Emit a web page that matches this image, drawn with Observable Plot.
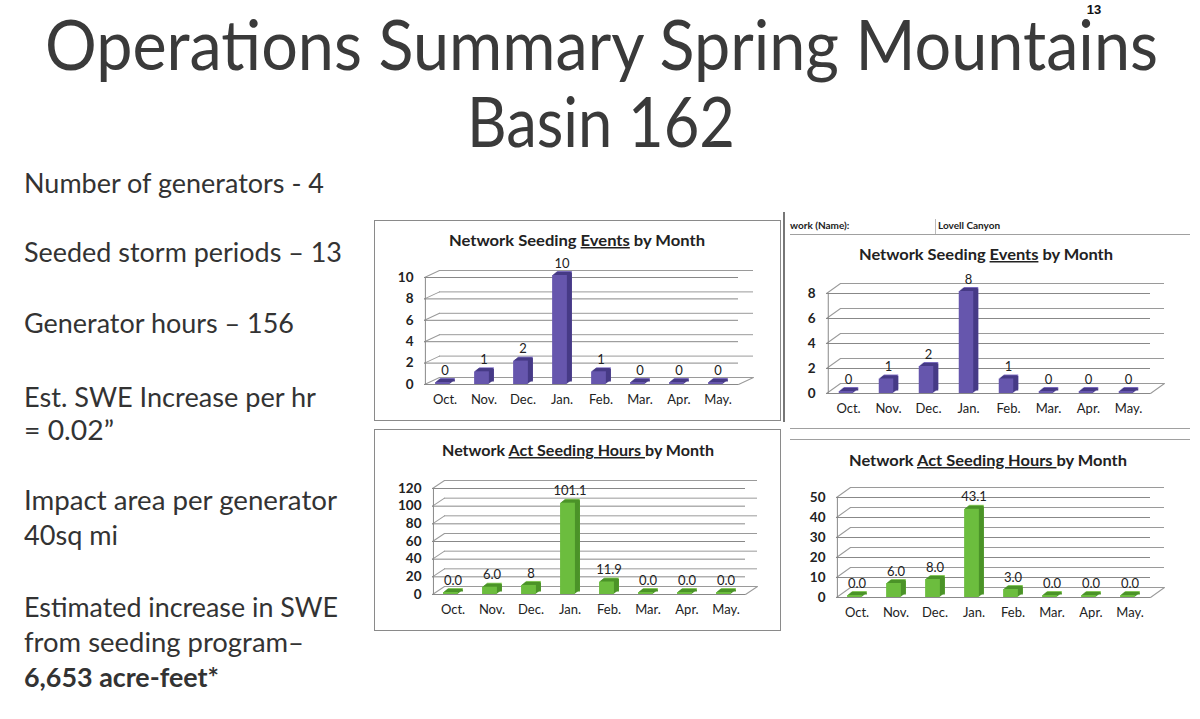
<!DOCTYPE html>
<html>
<head>
<meta charset="utf-8">
<script src="https://cdn.jsdelivr.net/npm/d3@7"></script>
<script src="https://cdn.jsdelivr.net/npm/@observablehq/plot@0.6"></script>
<style>
  html, body { margin: 0; padding: 0; background: #fff; }
  #page { position: relative; width: 1200px; height: 719px; overflow: hidden; background: #fff; font-family: Lato, "Open Sans", sans-serif; }
  #overlay { position: absolute; left: 0; top: 0; pointer-events: none; }
  .box { position: absolute; border: 1px solid #8a8a8a; box-sizing: border-box; }
  .hline { position: absolute; height: 0; border-top: 1px solid #a0a0a0; }
  .vline { position: absolute; width: 0; border-left: 1px solid #808080; }
</style>
</head>
<body>
<div id="page">
  <div class="box" style="left:374px; top:220px; width:407px; height:201px;"></div>
  <div class="box" style="left:374px; top:429px; width:407px; height:202px;"></div>
  <div class="vline" style="left:783px; top:212px; height:210px; border-left:2px solid #777;"></div>
  <div class="hline" style="left:790px; top:234px; width:400px;"></div>
  <div class="vline" style="left:935px; top:219px; height:15px; border-left:1px solid #bbb;"></div>
  <div class="hline" style="left:790px; top:428px; width:400px;"></div>
  <div class="hline" style="left:790px; top:439px; width:400px;"></div>
</div>
<script>
// ---------- data ----------
const months = ["Oct.", "Nov.", "Dec.", "Jan.", "Feb.", "Mar.", "Apr.", "May."];
const basinEvents = [0, 1, 2, 10, 1, 0, 0, 0];
const basinEventLabels = ["0", "1", "2", "10", "1", "0", "0", "0"];
const lovellEvents = [0, 1, 2, 8, 1, 0, 0, 0];
const lovellEventLabels = ["0", "1", "2", "8", "1", "0", "0", "0"];
const basinHours = [0, 6.0, 8, 101.1, 11.9, 0, 0, 0];
const basinHourLabels = ["0.0", "6.0", "8", "101.1", "11.9", "0.0", "0.0", "0.0"];
const lovellHours = [0, 6.0, 8.0, 43.1, 3.0, 0, 0, 0];
const lovellHourLabels = ["0.0", "6.0", "8.0", "43.1", "3.0", "0.0", "0.0", "0.0"];
const basinEventTicks = [0, 2, 4, 6, 8, 10];
const lovellEventTicks = [0, 2, 4, 6, 8];
const basinHourTicks = [0, 20, 40, 60, 80, 100, 120];
const lovellHourTicks = [0, 10, 20, 30, 40, 50];

const pageTitle1 = "Operations Summary Spring Mountains";
const pageTitle2 = "Basin 162";
const pageNumber = "13";
const bullets = [
  ["Number of generators - 4"],
  ["Seeded storm periods \u2013 13"],
  ["Generator hours \u2013 156"],
  ["Est. SWE Increase per hr", "= 0.02\u201D"],
  ["Impact area per generator", "40sq mi"],
  ["Estimated increase in SWE", "from seeding program\u2013", "6,653 acre-feet*"]
];
const networkLabel = "work (Name):";
const networkName = "Lovell Canyon";

const purple = {front: "#6656ad", side: "#463a86", top: "#8577c8"};
const green = {front: "#6cbd3e", side: "#4b9328", top: "#93d466"};

// ---------- chart builder ----------
function lineShape() {
  return { draw(context, l) { context.moveTo(0, 0); context.lineTo(0, -l); } };
}

function drawChart(o) {
  const rows = months.map((m, i) => ({month: m, value: o.values[i], label: o.labels[i]}));
  const plotW = o.width - o.marginLeft - o.marginRight;
  const bw = plotW / months.length;
  const gdx = o.gdx, gdy = o.gdy;
  const len = Math.hypot(gdx, gdy);
  const ang = Math.atan2(gdx, -gdy) * 180 / Math.PI;
  const marks = [];
  marks.push(Plot.ruleY(o.ticks, {y: d => d, dx: gdx, dy: gdy, stroke: "#9a9a9a", strokeWidth: 1}));
  marks.push(Plot.vector(o.ticks, {y: d => d, frameAnchor: "left", length: len, rotate: ang, anchor: "start", shape: lineShape(), stroke: "#9a9a9a", strokeWidth: 1}));
  marks.push(Plot.ruleY([0], {stroke: "#9a9a9a", strokeWidth: 1}));
  marks.push(Plot.vector([0], {y: d => d, frameAnchor: "right", length: len, rotate: ang, anchor: "start", shape: lineShape(), stroke: "#9a9a9a", strokeWidth: 1}));
  marks.push(Plot.ruleX([months[0]], {dx: -bw / 2, y1: 0, y2: o.ticks[o.ticks.length - 1], stroke: "#888"}));
  marks.push(Plot.tickY(o.ticks, {y: d => d, frameAnchor: "left", stroke: "#888"}));
  const inset = (bw - o.barW) / 2;
  for (let k = o.depth; k >= 1; k--) {
    marks.push(Plot.rectY(rows, {
      x: "month", y: "value", fill: k === o.depth ? o.color.top : o.color.side,
      insetLeft: inset, insetRight: inset, insetTop: -2,
      dx: k - 2, dy: -k * 0.8
    }));
  }
  marks.push(Plot.rectY(rows, {
    x: "month", y: "value", fill: o.color.side,
    insetLeft: inset + 1, insetRight: inset, insetTop: -2, dx: o.depth - 2, dy: -o.depth * 0.8 + 1.5
  }));
  marks.push(Plot.rectY(rows, {
    x: "month", y: "value", fill: o.color.front,
    insetLeft: inset, insetRight: inset, insetTop: -2, dx: -2
  }));
  marks.push(Plot.text(rows, {
    x: "month", y: "value", text: "label", dy: -14, dx: 0,
    fontSize: 13, fill: "#222", fontFamily: "Lato"
  }));
  marks.push(Plot.axisX({tickSize: 0, tickPadding: 10, fontSize: 13, label: null, fill: "#222"}));
  marks.push(Plot.axisY({ticks: o.ticks, tickSize: 0, tickPadding: 11, fontSize: 13.5, fontWeight: "bold", label: null, fill: "#222"}));

  const svg = Plot.plot({
    width: o.width, height: o.height,
    marginLeft: o.marginLeft, marginRight: o.marginRight,
    marginTop: o.marginTop, marginBottom: o.marginBottom,
    style: {fontFamily: "Lato, sans-serif", background: "transparent", overflow: "visible"},
    x: {domain: months, padding: 0, label: null},
    y: {domain: [0, o.ticks[o.ticks.length - 1]], label: null},
    marks
  });
  svg.style.position = "absolute";
  svg.style.left = o.left + "px";
  svg.style.top = o.top + "px";
  document.getElementById("page").appendChild(svg);
}

drawChart({left: 374, top: 255, width: 407, height: 159, marginLeft: 50, marginRight: 43, marginTop: 22, marginBottom: 30,
  values: basinEvents, labels: basinEventLabels, ticks: basinEventTicks, color: purple, gdx: 15, gdy: -7, barW: 15, depth: 5});
drawChart({left: 784, top: 268, width: 411, height: 152, marginLeft: 42, marginRight: 45, marginTop: 25, marginBottom: 27,
  values: lovellEvents, labels: lovellEventLabels, ticks: lovellEventTicks, color: purple, gdx: 14, gdy: -10, barW: 15, depth: 5});
drawChart({left: 374, top: 465, width: 407, height: 157, marginLeft: 58, marginRight: 36, marginTop: 23, marginBottom: 28,
  values: basinHours, labels: basinHourLabels, ticks: basinHourTicks, color: green, gdx: 12, gdy: -8, barW: 15, depth: 5});
drawChart({left: 784, top: 472, width: 411, height: 152, marginLeft: 52, marginRight: 45, marginTop: 25, marginBottom: 27,
  values: lovellHours, labels: lovellHourLabels, ticks: lovellHourTicks, color: green, gdx: 14, gdy: -10, barW: 15, depth: 5});

// ---------- page text overlay ----------
const ns = "http://www.w3.org/2000/svg";
const ov = document.createElementNS(ns, "svg");
ov.setAttribute("id", "overlay");
ov.setAttribute("width", 1200);
ov.setAttribute("height", 719);
document.getElementById("page").appendChild(ov);
function txt(str, x, y, opts = {}) {
  const t = document.createElementNS(ns, "text");
  t.setAttribute("x", x); t.setAttribute("y", y);
  t.setAttribute("font-family", opts.family || "Lato, sans-serif");
  t.setAttribute("font-size", opts.size || 14);
  t.setAttribute("fill", opts.fill || "#333");
  if (opts.weight) t.setAttribute("font-weight", opts.weight);
  if (opts.anchor) t.setAttribute("text-anchor", opts.anchor);
  if (opts.length) { t.setAttribute("textLength", opts.length); t.setAttribute("lengthAdjust", "spacingAndGlyphs"); }
  if (Array.isArray(str)) {
    for (const [s, u] of str) {
      const ts = document.createElementNS(ns, "tspan");
      ts.textContent = s;
      if (u) ts.setAttribute("text-decoration", "underline");
      t.appendChild(ts);
    }
  } else t.textContent = str;
  ov.appendChild(t);
  return t;
}
txt(pageTitle1, 45, 70, {size: 69, fill: "#3a3a3a", length: 1113});
txt(pageTitle2, 467, 147, {size: 69, fill: "#3a3a3a", length: 268});
txt(pageNumber, 1094, 14, {size: 13, weight: "bold", fill: "#111", anchor: "middle", family: "Arial, Liberation Sans, sans-serif"});
const bulletBaselines = [[193], [262], [333], [407, 440], [510, 545], [617, 652, 687]];
const bulletWidths = [[300], [318], [270], [292, 90], [313, 94], [314, 280, 195]];
bullets.forEach((lines, i) => lines.forEach((s, j) => {
  const bold = (i === 5 && j === 2);
  txt(s, 24, bulletBaselines[i][j], {size: 27, fill: "#333", weight: bold ? "bold" : null, length: bulletWidths[i][j]});
}));
const evTitle = [["Network Seeding ", false], ["Events", true], [" by Month", false]];
const hrTitle = [["Network ", false], ["Act Seeding Hours ", true], ["by Month", false]];
txt(evTitle, 577, 246, {size: 15, weight: "bold", fill: "#222", anchor: "middle", length: 256});
txt(evTitle, 986, 260, {size: 15, weight: "bold", fill: "#222", anchor: "middle", length: 254});
txt(hrTitle, 578, 456, {size: 15, weight: "bold", fill: "#222", anchor: "middle", length: 272});
txt(hrTitle, 988, 466, {size: 15, weight: "bold", fill: "#222", anchor: "middle", length: 278});
txt(networkLabel, 790, 229, {size: 10, weight: "bold", fill: "#222"});
txt(networkName, 938, 229, {size: 10, weight: "bold", fill: "#222"});
</script>
</body>
</html>
